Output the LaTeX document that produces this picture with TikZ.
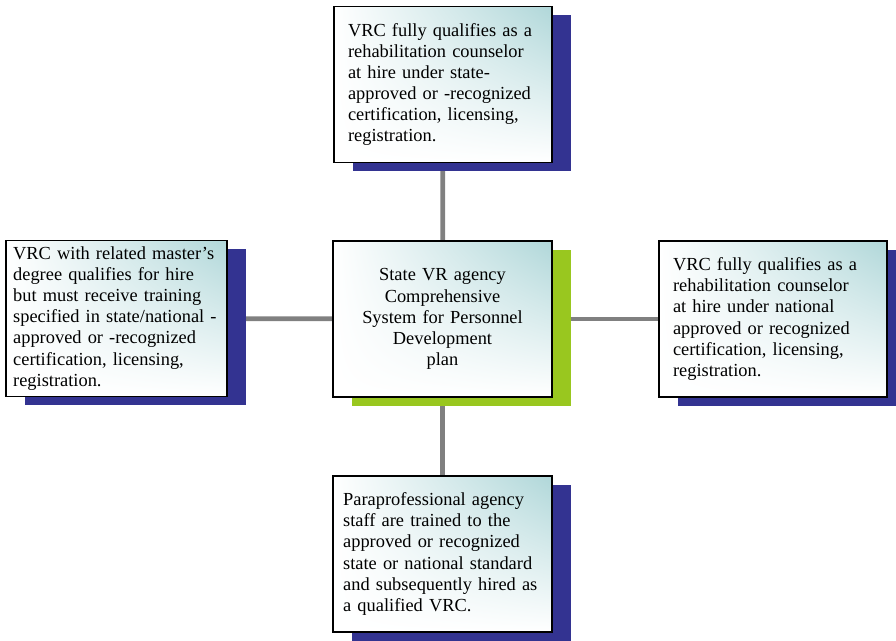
\documentclass[tikz,border=0pt]{standalone}
\usepackage{fontspec}
\setmainfont{Liberation Serif}
\usetikzlibrary{shadows,shadings,backgrounds}

\definecolor{vrblue}{RGB}{51,51,145}
\definecolor{vrgreen}{RGB}{153,199,31}
\definecolor{vrteal}{RGB}{176,215,217}
\definecolor{vrgray}{RGB}{128,128,128}

\begin{document}
\begin{tikzpicture}[x=0.75pt, y=0.75pt,
        box/.style={draw, line width=1.3pt, minimum width=164pt, minimum height=117pt,
          upper right=vrteal, upper left=white, lower left=white, lower right=white,
          font=\fontsize{13.8}{15.8}\selectfont, align=left},
        B/.style={box, drop shadow={fill=vrblue, opacity=1, shadow xshift=14.25pt, shadow yshift=-6.75pt}},
        G/.style={box, align=center, drop shadow={fill=vrgreen, opacity=1, shadow xshift=14.25pt, shadow yshift=-6.75pt}},
        L/.style={line width=3.6pt, draw=vrgray}
      ]
      \useasboundingbox (0,0) rectangle (896,641);

      \node [G, text width=150pt] (cspd) at (442.5,322)
        {State VR agency\\Comprehensive\\System for Personnel\\Development\\plan};
      \node [B, text width=142.5pt, inner xsep=10.5pt] (statecert) at (443,556.5)
        {VRC fully qualifies as a\\rehabilitation counselor\\at hire under state-\\approved or -recognized\\certification, licensing,\\registration.};
      \node [B, minimum width=166pt, text width=155pt, inner xsep=5.5pt] (mastersdeg) at (116.5,322.5)
        {VRC with related master’s\\degree qualifies for hire\\but must receive training\\specified in state/national~-\\approved or -recognized\\certification, licensing,\\registration.};
      \node [B, minimum width=171pt, text width=150pt, inner xsep=10.5pt] (natcert) at (773,322)
        {VRC fully qualifies as a\\rehabilitation counselor\\at hire under national\\approved or recognized\\certification, licensing,\\registration.};
      \node [B, text width=149pt, inner xsep=7.5pt] (paraprof) at (442.5,87)
        {Paraprofessional agency\\staff are trained to the\\approved or recognized\\state or national standard\\and subsequently hired as\\a qualified VRC.};

      % spokes from the plan to the four routes
      \begin{scope}[on background layer]
        \draw [L] (cspd) -- (statecert);
        \draw [L] (cspd) -- (mastersdeg);
        \draw [L] (cspd) -- (natcert);
        \draw [L] (cspd) -- (paraprof);
      \end{scope}
    \end{tikzpicture}
\end{document}
